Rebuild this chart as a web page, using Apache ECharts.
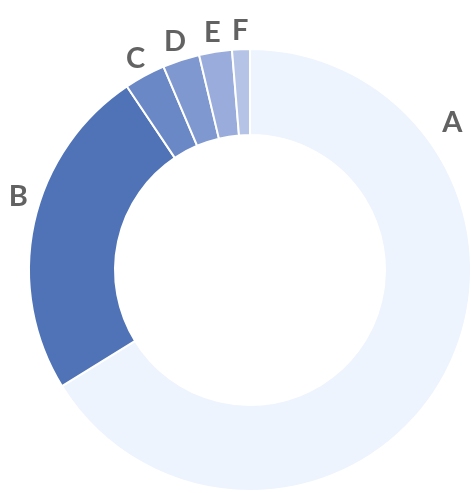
<!DOCTYPE html>
<html>
<head>
<meta charset="utf-8">
<style>
html,body{margin:0;padding:0;background:#fff;}
#chart{width:471px;height:493px;}
</style>
<script src="https://cdn.jsdelivr.net/npm/echarts@6/dist/echarts.min.js"></script>
</head>
<body>
<div id="chart"></div>
<script>
var categories = ['A', 'B', 'C', 'D', 'E', 'F'];
var values = [66.2, 24.4, 3.0, 2.7, 2.4, 1.3];
var colors = ['#edf4fe', '#4f73b6', '#6a87c6', '#7f98d0', '#99acdb', '#b5c3e6'];

var cx = 250, cy = 270, rIn = 135, rOut = 221, rLabel = 240;
var total = values.reduce(function (a, b) { return a + b; }, 0);
var midAngles = [];
var acc = 0;
values.forEach(function (v) {
  midAngles.push((acc + v / 2) / total * 360);
  acc += v;
});
// labels of A and B are placed off their slice midpoints, as in the reference
var labelAngleOverride = { 0: 54, 1: 287.5 };
var labelRadiusOverride = { 0: 250, 1: 243 };

var chart = echarts.init(document.getElementById('chart'), null, { renderer: 'canvas' });
chart.setOption({
  animation: false,
  series: [{
    type: 'pie',
    center: [cx, cy],
    radius: [rIn, rOut],
    startAngle: 90,
    clockwise: true,
    avoidLabelOverlap: false,
    itemStyle: { borderColor: '#ffffff', borderWidth: 2 },
    label: {
      show: true,
      position: 'outside',
      formatter: '{b}',
      color: '#626262',
      fontFamily: 'Lato',
      fontWeight: 'bold',
      fontSize: 29
    },
    labelLine: { show: false },
    labelLayout: function (p) {
      var i = p.dataIndex;
      var ang = labelAngleOverride[i] !== undefined ? labelAngleOverride[i] : midAngles[i];
      var r = labelRadiusOverride[i] !== undefined ? labelRadiusOverride[i] : rLabel;
      var rad = ang * Math.PI / 180;
      return {
        x: cx + r * Math.sin(rad),
        y: cy - r * Math.cos(rad),
        align: 'center',
        verticalAlign: 'middle'
      };
    },
    emphasis: { disabled: true },
    data: categories.map(function (c, i) {
      return { name: c, value: values[i], itemStyle: { color: colors[i] } };
    })
  }]
});
</script>
</body>
</html>
